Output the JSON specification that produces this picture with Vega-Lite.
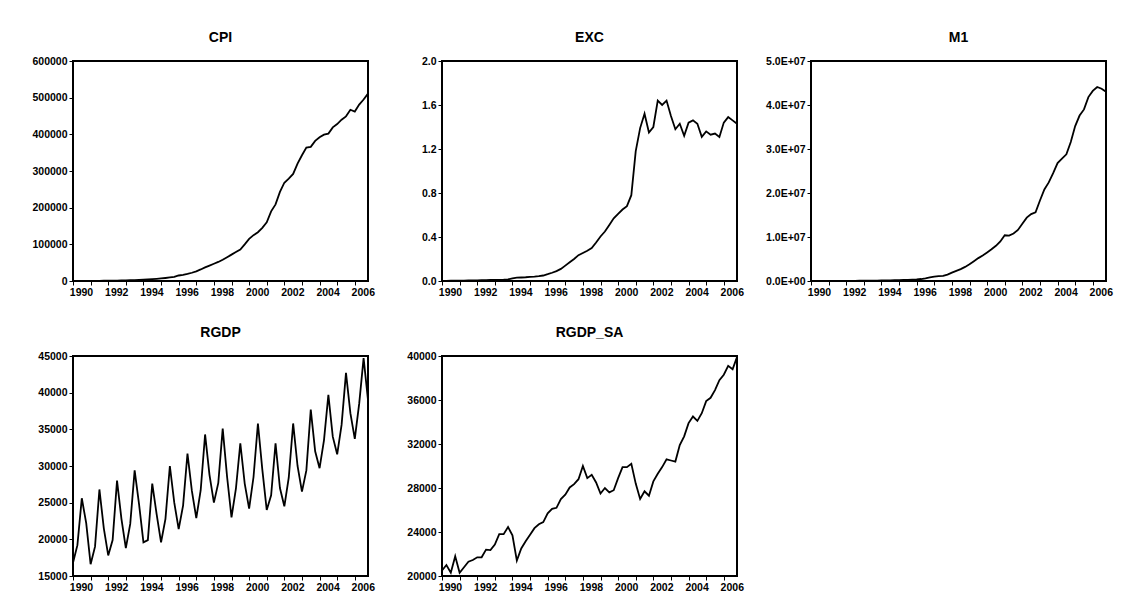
{
  "$schema": "https://vega.github.io/schema/vega-lite/v6.json",
  "background": "white",
  "padding": {"left": 30, "top": 30, "right": 5, "bottom": 5},
  "columns": 3,
  "bounds": "flush",
  "spacing": {"row": 75, "column": 74},
  "data": {"values": [
    {"t":1990.00,"CPI":200,"EXC":0.002,"M1":10000,"RGDP":16800,"RGDP_SA":20500},
    {"t":1990.25,"CPI":240,"EXC":0.002,"M1":12000,"RGDP":19200,"RGDP_SA":21000},
    {"t":1990.50,"CPI":290,"EXC":0.003,"M1":14000,"RGDP":25600,"RGDP_SA":20300},
    {"t":1990.75,"CPI":350,"EXC":0.003,"M1":16000,"RGDP":22200,"RGDP_SA":21800},
    {"t":1991.00,"CPI":420,"EXC":0.004,"M1":19000,"RGDP":16600,"RGDP_SA":20300},
    {"t":1991.25,"CPI":500,"EXC":0.004,"M1":22000,"RGDP":19000,"RGDP_SA":20800},
    {"t":1991.50,"CPI":600,"EXC":0.005,"M1":26000,"RGDP":26800,"RGDP_SA":21300},
    {"t":1991.75,"CPI":720,"EXC":0.005,"M1":30000,"RGDP":21500,"RGDP_SA":21450},
    {"t":1992.00,"CPI":860,"EXC":0.006,"M1":35000,"RGDP":17800,"RGDP_SA":21700},
    {"t":1992.25,"CPI":1020,"EXC":0.007,"M1":41000,"RGDP":19900,"RGDP_SA":21700},
    {"t":1992.50,"CPI":1220,"EXC":0.008,"M1":48000,"RGDP":28000,"RGDP_SA":22400},
    {"t":1992.75,"CPI":1450,"EXC":0.009,"M1":56000,"RGDP":22800,"RGDP_SA":22350},
    {"t":1993.00,"CPI":1720,"EXC":0.010,"M1":65000,"RGDP":18800,"RGDP_SA":22850},
    {"t":1993.25,"CPI":2050,"EXC":0.011,"M1":76000,"RGDP":22100,"RGDP_SA":23800},
    {"t":1993.50,"CPI":2450,"EXC":0.012,"M1":88000,"RGDP":29400,"RGDP_SA":23800},
    {"t":1993.75,"CPI":2900,"EXC":0.014,"M1":100000,"RGDP":24800,"RGDP_SA":24450},
    {"t":1994.00,"CPI":3500,"EXC":0.024,"M1":115000,"RGDP":19600,"RGDP_SA":23700},
    {"t":1994.25,"CPI":4200,"EXC":0.030,"M1":130000,"RGDP":19900,"RGDP_SA":21400},
    {"t":1994.50,"CPI":5000,"EXC":0.032,"M1":150000,"RGDP":27600,"RGDP_SA":22500},
    {"t":1994.75,"CPI":5900,"EXC":0.034,"M1":170000,"RGDP":23400,"RGDP_SA":23150},
    {"t":1995.00,"CPI":7000,"EXC":0.037,"M1":195000,"RGDP":19600,"RGDP_SA":23750},
    {"t":1995.25,"CPI":8200,"EXC":0.040,"M1":225000,"RGDP":22800,"RGDP_SA":24350},
    {"t":1995.50,"CPI":9600,"EXC":0.044,"M1":260000,"RGDP":30000,"RGDP_SA":24700},
    {"t":1995.75,"CPI":11200,"EXC":0.050,"M1":300000,"RGDP":25000,"RGDP_SA":24900},
    {"t":1996.00,"CPI":15000,"EXC":0.062,"M1":350000,"RGDP":21400,"RGDP_SA":25700},
    {"t":1996.25,"CPI":17000,"EXC":0.075,"M1":450000,"RGDP":24600,"RGDP_SA":26100},
    {"t":1996.50,"CPI":19500,"EXC":0.090,"M1":600000,"RGDP":31700,"RGDP_SA":26200},
    {"t":1996.75,"CPI":22500,"EXC":0.110,"M1":800000,"RGDP":26600,"RGDP_SA":27000},
    {"t":1997.00,"CPI":26500,"EXC":0.140,"M1":1000000,"RGDP":22900,"RGDP_SA":27400},
    {"t":1997.25,"CPI":31500,"EXC":0.170,"M1":1100000,"RGDP":26700,"RGDP_SA":28050},
    {"t":1997.50,"CPI":37000,"EXC":0.200,"M1":1150000,"RGDP":34300,"RGDP_SA":28350},
    {"t":1997.75,"CPI":42000,"EXC":0.235,"M1":1450000,"RGDP":28800,"RGDP_SA":28800},
    {"t":1998.00,"CPI":47000,"EXC":0.255,"M1":1900000,"RGDP":25000,"RGDP_SA":30000},
    {"t":1998.25,"CPI":52000,"EXC":0.275,"M1":2300000,"RGDP":27700,"RGDP_SA":28900},
    {"t":1998.50,"CPI":58000,"EXC":0.300,"M1":2700000,"RGDP":35100,"RGDP_SA":29200},
    {"t":1998.75,"CPI":65000,"EXC":0.350,"M1":3200000,"RGDP":28500,"RGDP_SA":28500},
    {"t":1999.00,"CPI":72000,"EXC":0.405,"M1":3800000,"RGDP":23000,"RGDP_SA":27500},
    {"t":1999.25,"CPI":79000,"EXC":0.450,"M1":4500000,"RGDP":26900,"RGDP_SA":28000},
    {"t":1999.50,"CPI":86000,"EXC":0.510,"M1":5200000,"RGDP":33100,"RGDP_SA":27600},
    {"t":1999.75,"CPI":100000,"EXC":0.570,"M1":5800000,"RGDP":27600,"RGDP_SA":27800},
    {"t":2000.00,"CPI":115000,"EXC":0.610,"M1":6500000,"RGDP":24200,"RGDP_SA":28900},
    {"t":2000.25,"CPI":125000,"EXC":0.650,"M1":7200000,"RGDP":28500,"RGDP_SA":29900},
    {"t":2000.50,"CPI":133000,"EXC":0.680,"M1":8000000,"RGDP":35800,"RGDP_SA":29900},
    {"t":2000.75,"CPI":145000,"EXC":0.780,"M1":9000000,"RGDP":29500,"RGDP_SA":30200},
    {"t":2001.00,"CPI":160000,"EXC":1.18,"M1":10400000,"RGDP":24000,"RGDP_SA":28400},
    {"t":2001.25,"CPI":190000,"EXC":1.39,"M1":10300000,"RGDP":26000,"RGDP_SA":27000},
    {"t":2001.50,"CPI":209000,"EXC":1.52,"M1":10800000,"RGDP":33100,"RGDP_SA":27700},
    {"t":2001.75,"CPI":243000,"EXC":1.35,"M1":11600000,"RGDP":27000,"RGDP_SA":27300},
    {"t":2002.00,"CPI":268000,"EXC":1.40,"M1":13000000,"RGDP":24500,"RGDP_SA":28600},
    {"t":2002.25,"CPI":279000,"EXC":1.64,"M1":14400000,"RGDP":28400,"RGDP_SA":29300},
    {"t":2002.50,"CPI":292000,"EXC":1.60,"M1":15200000,"RGDP":35800,"RGDP_SA":29900},
    {"t":2002.75,"CPI":320000,"EXC":1.64,"M1":15600000,"RGDP":30000,"RGDP_SA":30600},
    {"t":2003.00,"CPI":343000,"EXC":1.50,"M1":18300000,"RGDP":26500,"RGDP_SA":30500},
    {"t":2003.25,"CPI":364000,"EXC":1.38,"M1":20800000,"RGDP":29400,"RGDP_SA":30400},
    {"t":2003.50,"CPI":366000,"EXC":1.43,"M1":22400000,"RGDP":37700,"RGDP_SA":31900},
    {"t":2003.75,"CPI":382000,"EXC":1.32,"M1":24500000,"RGDP":32000,"RGDP_SA":32700},
    {"t":2004.00,"CPI":392000,"EXC":1.44,"M1":26800000,"RGDP":29700,"RGDP_SA":33900},
    {"t":2004.25,"CPI":399000,"EXC":1.46,"M1":27800000,"RGDP":33500,"RGDP_SA":34500},
    {"t":2004.50,"CPI":402000,"EXC":1.43,"M1":28800000,"RGDP":39700,"RGDP_SA":34100},
    {"t":2004.75,"CPI":419000,"EXC":1.31,"M1":31600000,"RGDP":34000,"RGDP_SA":34800},
    {"t":2005.00,"CPI":428000,"EXC":1.36,"M1":35200000,"RGDP":31600,"RGDP_SA":35900},
    {"t":2005.25,"CPI":440000,"EXC":1.33,"M1":37600000,"RGDP":35600,"RGDP_SA":36200},
    {"t":2005.50,"CPI":449000,"EXC":1.34,"M1":39000000,"RGDP":42700,"RGDP_SA":36900},
    {"t":2005.75,"CPI":467000,"EXC":1.31,"M1":41800000,"RGDP":37200,"RGDP_SA":37800},
    {"t":2006.00,"CPI":462000,"EXC":1.44,"M1":43200000,"RGDP":33700,"RGDP_SA":38300},
    {"t":2006.25,"CPI":481000,"EXC":1.49,"M1":44100000,"RGDP":38500,"RGDP_SA":39100},
    {"t":2006.50,"CPI":495000,"EXC":1.46,"M1":43700000,"RGDP":44700,"RGDP_SA":38800},
    {"t":2006.75,"CPI":511000,"EXC":1.43,"M1":43000000,"RGDP":39000,"RGDP_SA":39900}
  ]},
  "concat": [
    {"title": "CPI", "width": 295, "height": 220, "mark": {"type": "line"},
     "encoding": {
       "x": {"field": "t", "type": "quantitative", "title": null, "scale": {"domain": [1990, 2006.75], "nice": false, "zero": false},
             "axis": {"values": [1990,1991,1992,1993,1994,1995,1996,1997,1998,1999,2000,2001,2002,2003,2004,2005,2006], "format": "d", "labelExpr": "datum.value % 2 == 0 ? datum.label : ''", "labelOffset": 8, "labelFlush": false, "labelOverlap": false}},
       "y": {"field": "CPI", "type": "quantitative", "title": null, "scale": {"domain": [0, 600000], "nice": false},
             "axis": {"values": [0,100000,200000,300000,400000,500000,600000], "format": "d"}}}},
    {"title": "EXC", "width": 295, "height": 220, "mark": {"type": "line"},
     "encoding": {
       "x": {"field": "t", "type": "quantitative", "title": null, "scale": {"domain": [1990, 2006.75], "nice": false, "zero": false},
             "axis": {"values": [1990,1991,1992,1993,1994,1995,1996,1997,1998,1999,2000,2001,2002,2003,2004,2005,2006], "format": "d", "labelExpr": "datum.value % 2 == 0 ? datum.label : ''", "labelOffset": 8, "labelFlush": false, "labelOverlap": false}},
       "y": {"field": "EXC", "type": "quantitative", "title": null, "scale": {"domain": [0, 2], "nice": false},
             "axis": {"values": [0,0.4,0.8,1.2,1.6,2.0], "format": ".1f"}}}},
    {"title": "M1", "width": 295, "height": 220, "mark": {"type": "line"},
     "encoding": {
       "x": {"field": "t", "type": "quantitative", "title": null, "scale": {"domain": [1990, 2006.75], "nice": false, "zero": false},
             "axis": {"values": [1990,1991,1992,1993,1994,1995,1996,1997,1998,1999,2000,2001,2002,2003,2004,2005,2006], "format": "d", "labelExpr": "datum.value % 2 == 0 ? datum.label : ''", "labelOffset": 8, "labelFlush": false, "labelOverlap": false}},
       "y": {"field": "M1", "type": "quantitative", "title": null, "scale": {"domain": [0, 50000000], "nice": false},
             "axis": {"values": [0,10000000,20000000,30000000,40000000,50000000], "labelExpr": "replace(format(datum.value, '.1e'), 'e+', 'E+0')"}}}},
    {"title": "RGDP", "width": 295, "height": 220, "mark": {"type": "line"},
     "encoding": {
       "x": {"field": "t", "type": "quantitative", "title": null, "scale": {"domain": [1990, 2006.75], "nice": false, "zero": false},
             "axis": {"values": [1990,1991,1992,1993,1994,1995,1996,1997,1998,1999,2000,2001,2002,2003,2004,2005,2006], "format": "d", "labelExpr": "datum.value % 2 == 0 ? datum.label : ''", "labelOffset": 8, "labelFlush": false, "labelOverlap": false}},
       "y": {"field": "RGDP", "type": "quantitative", "title": null, "scale": {"domain": [15000, 45000], "nice": false, "zero": false},
             "axis": {"values": [15000,20000,25000,30000,35000,40000,45000], "format": "d"}}}},
    {"title": "RGDP_SA", "width": 295, "height": 220, "mark": {"type": "line"},
     "encoding": {
       "x": {"field": "t", "type": "quantitative", "title": null, "scale": {"domain": [1990, 2006.75], "nice": false, "zero": false},
             "axis": {"values": [1990,1991,1992,1993,1994,1995,1996,1997,1998,1999,2000,2001,2002,2003,2004,2005,2006], "format": "d", "labelExpr": "datum.value % 2 == 0 ? datum.label : ''", "labelOffset": 8, "labelFlush": false, "labelOverlap": false}},
       "y": {"field": "RGDP_SA", "type": "quantitative", "title": null, "scale": {"domain": [20000, 40000], "nice": false, "zero": false},
             "axis": {"values": [20000,24000,28000,32000,36000,40000], "format": "d"}}}}
  ],
  "config": {
    "view": {"stroke": "black", "strokeWidth": 2},
    "axis": {"domain": false, "grid": false, "ticks": true, "tickColor": "black", "tickSize": 4, "tickWidth": 1, "labelPadding": 2,
             "labelFont": "Liberation Sans", "labelFontWeight": "bold", "labelFontSize": 10.5, "labelColor": "black"},
    "title": {"font": "Liberation Sans", "fontSize": 14, "fontWeight": "bold", "color": "black", "offset": 11, "anchor": "middle"},
    "line": {"color": "black", "strokeWidth": 1.8}
  }
}
